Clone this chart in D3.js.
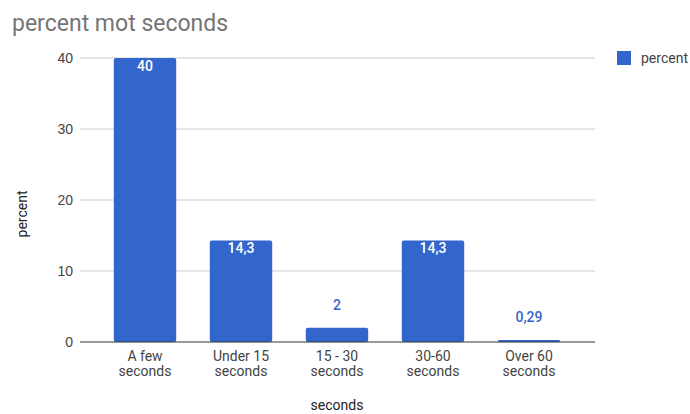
<!DOCTYPE html>
<html>
<head>
<meta charset="utf-8">
<script src="https://cdn.jsdelivr.net/npm/d3@7"></script>
<style>
  html, body { margin: 0; padding: 0; background: #fff; }
  svg { display: block; font-family: Roboto, "Noto Sans", Arial, sans-serif; }
</style>
</head>
<body>
<svg id="chart" width="690" height="414"></svg>
<script>
// Share of responses per time bucket
const categories = [["A few", "seconds"], ["Under 15", "seconds"], ["15 - 30", "seconds"], ["30-60", "seconds"], ["Over 60", "seconds"]];
const values = [40, 14.3, 2, 14.3, 0.29];
const yTicks = [0, 10, 20, 30, 40];
const seriesName = "percent";

const svg = d3.select("#chart");
const blue = "#3366cc";

const locale = d3.formatLocale({ decimal: ",", thousands: ".", grouping: [3], currency: ["", ""] });
const fmt = v => locale.format("~g")(v);

const y = d3.scaleLinear().domain([0, 40]).range([342, 58]);
const x = d3.scaleBand().domain(d3.range(values.length)).range([97, 577])
  .paddingInner(0.35).paddingOuter(0.175);

// Title
svg.append("text").attr("x", 12).attr("y", 31)
  .attr("font-size", 23).attr("fill", "#757575").text("percent mot seconds");

// Gridlines and y tick labels
const yAxis = d3.axisLeft(y).tickValues(yTicks).tickSize(0).tickPadding(0);
const gy = svg.append("g").attr("transform", "translate(73,0)").call(yAxis);
gy.select(".domain").remove();
gy.selectAll("text").attr("font-size", 14).attr("fill", "#444").attr("font-family", null);

svg.append("g").selectAll("line").data(yTicks.filter(d => d !== 0)).join("line")
  .attr("x1", 80).attr("x2", 595)
  .attr("y1", d => y(d)).attr("y2", d => y(d))
  .attr("stroke", "#ccc").attr("stroke-width", 1);

// Bars
svg.append("g").selectAll("rect").data(values).join("rect")
  .attr("x", (d, i) => x(i)).attr("width", x.bandwidth())
  .attr("y", d => y(d)).attr("height", d => y(0) - y(d))
  .attr("rx", 2).attr("fill", blue);

// Baseline
svg.append("line").attr("x1", 80).attr("x2", 595)
  .attr("y1", y(0)).attr("y2", y(0)).attr("stroke", "#333").attr("stroke-width", 1);

// Value annotations: inside tall bars, above short ones
svg.append("g").selectAll("text").data(values).join("text")
  .attr("x", (d, i) => x(i) + x.bandwidth() / 2)
  .attr("y", d => (y(0) - y(d) > 30) ? y(d) + 13 : y(d) - 18)
  .attr("text-anchor", "middle").attr("font-size", 14).attr("font-weight", 500)
  .attr("fill", d => (y(0) - y(d) > 30) ? "#fff" : blue)
  .text(d => fmt(d));

// Category labels (two lines)
const gx = svg.append("g").selectAll("text").data(categories).join("text")
  .attr("text-anchor", "middle").attr("font-size", 14).attr("fill", "#444")
  .attr("transform", (d, i) => `translate(${x(i) + x.bandwidth() / 2},0)`);
gx.selectAll("tspan").data(d => d).join("tspan")
  .attr("x", 0).attr("y", (d, j) => 361 + j * 15).text(d => d);

// Axis titles
svg.append("text").attr("x", 337).attr("y", 410).attr("text-anchor", "middle")
  .attr("font-size", 14).attr("fill", "#222").text("seconds");
svg.append("text").attr("transform", "translate(27,214) rotate(-90)")
  .attr("text-anchor", "middle").attr("font-size", 14).attr("fill", "#222").text(seriesName);

// Legend
svg.append("rect").attr("x", 617).attr("y", 51).attr("width", 14).attr("height", 14).attr("fill", blue);
svg.append("text").attr("x", 641).attr("y", 63).attr("font-size", 14).attr("fill", "#444").text(seriesName);
</script>
</body>
</html>
